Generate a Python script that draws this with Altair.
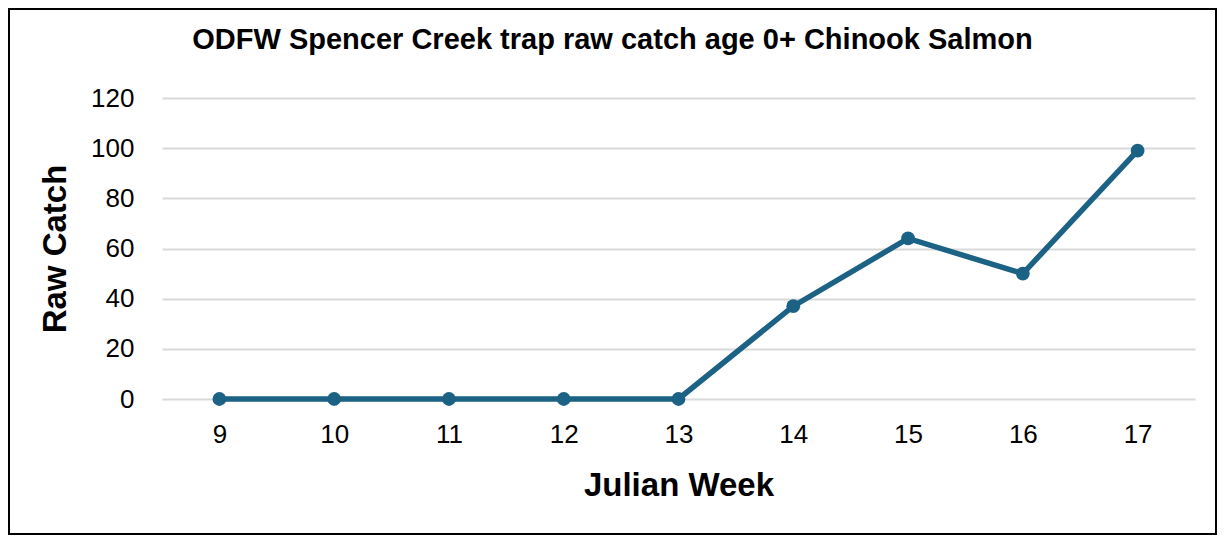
import altair as alt
import pandas as pd

weeks = [9, 10, 11, 12, 13, 14, 15, 16, 17]
catch = [0, 0, 0, 0, 0, 37, 64, 50, 99]
y_ticks = [0, 20, 40, 60, 80, 100, 120]

df = pd.DataFrame({"week": [str(w) for w in weeks], "catch": catch})

W, H = 1033, 301
PL, PT, PR, PB = 154, 90, 22, 136

LINE = "#1b6285"

x = alt.X("week:O", sort=[str(w) for w in weeks], title="Julian Week",
          scale=alt.Scale(type="point", padding=0.5),
          axis=alt.Axis(labelAngle=0, labelFontSize=26, labelFont="Liberation Sans",
                        labelColor="#000000", labelPadding=22, ticks=False, domain=False,
                        grid=False, titleFontSize=33, titleFont="Liberation Sans",
                        titleFontWeight="bold", titleColor="#000000", titlePadding=22))
y = alt.Y("catch:Q", title="Raw Catch",
          scale=alt.Scale(domain=[0, 120], nice=False, zero=True),
          axis=alt.Axis(values=y_ticks, labelFontSize=26, labelFont="Liberation Sans",
                        labelColor="#000000", labelPadding=28, ticks=False, domain=False,
                        grid=True, gridColor="#d9d9d9", gridWidth=2,
                        titleFontSize=33, titleFont="Liberation Sans", titleFontWeight="bold",
                        titleColor="#000000", titlePadding=18))

line = alt.Chart(df).mark_line(color=LINE, strokeWidth=5.5).encode(x=x, y=y)
pts = alt.Chart(df).mark_point(color=LINE, filled=True, size=190, opacity=1).encode(x=x, y=y)

border = alt.Chart(pd.DataFrame({"a": [0]})).mark_rect(
    filled=False, stroke="#000000", strokeWidth=2).encode(
    x=alt.value(-PL + 1), x2=alt.value(W + PR - 1),
    y=alt.value(-PT + 1), y2=alt.value(H + PB - 1))

chart = alt.layer(border, line, pts).properties(
    width=W, height=H,
    padding={"left": PL, "top": PT, "right": PR, "bottom": PB},
    autosize=alt.AutoSizeParams(type="none"),
    title=alt.TitleParams("ODFW Spencer Creek trap raw catch age 0+ Chinook Salmon",
                          fontSize=29, font="Liberation Sans", fontWeight="bold",
                          color="#000000", anchor="middle", frame="group", dx=-66,
                          offset=0, dy=47),
    background="#ffffff",
).configure_view(stroke=None)

chart.save("out.html", embed_options={"renderer": "svg", "actions": False})
